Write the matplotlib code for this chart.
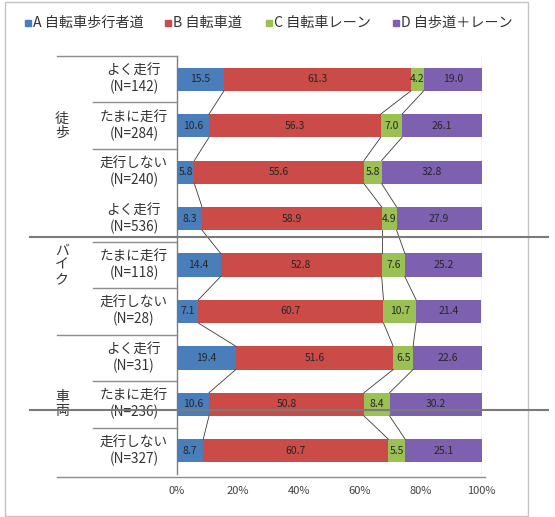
import matplotlib
matplotlib.use("Agg")
import matplotlib.pyplot as plt
from matplotlib.lines import Line2D
from matplotlib.patches import Rectangle
import matplotlib.transforms as mtransforms
import numpy as np

plt.rcParams['font.family'] = ['Noto Sans CJK JP', 'DejaVu Sans']

# --- data -------------------------------------------------------------
series_names = ["A 自転車歩行者道", "B 自転車道", "C 自転車レーン", "D 自歩道＋レーン"]
row_labels = ["よく走行", "たまに走行", "走行しない",
              "よく走行", "たまに走行", "走行しない",
              "よく走行", "たまに走行", "走行しない"]
row_n = ["(N=142)", "(N=284)", "(N=240)",
         "(N=536)", "(N=118)", "(N=28)",
         "(N=31)", "(N=236)", "(N=327)"]
group_labels = ["徒歩", "バイク", "車両"]
group_rows = [1, 4, 7]

share_a = [15.5, 10.6, 5.8, 8.3, 14.4, 7.1, 19.4, 10.6, 8.7]
share_b = [61.3, 56.3, 55.6, 58.9, 52.8, 60.7, 51.6, 50.8, 60.7]
share_c = [4.2, 7.0, 5.8, 4.9, 7.6, 10.7, 6.5, 8.4, 5.5]
share_d = [19.0, 26.1, 32.8, 27.9, 25.2, 21.4, 22.6, 30.2, 25.1]

x_ticks = [0, 20, 40, 60, 80, 100]
x_tick_labels = ["0%", "20%", "40%", "60%", "80%", "100%"]

colors = ["#4A7EBB", "#CB4B48", "#9BC054", "#7E60B0"]

# --- figure -----------------------------------------------------------
W, H = 555, 517
fig = plt.figure(figsize=(W / 100, H / 100), dpi=100)
fig.patch.set_facecolor("white")


def fx(x):
    return x / W


def fy(y):
    return 1 - y / H


ax = fig.add_axes([fx(176.7), fy(474), fx(305), 418 / H])

values = np.array([share_a, share_b, share_c, share_d])
n_rows = values.shape[1]
ypos = np.arange(n_rows)
bar_h = 0.5
left = np.zeros(n_rows)
for k in range(4):
    ax.barh(ypos, values[k], left=left, height=bar_h, color=colors[k],
            edgecolor="none", zorder=3)
    for i in range(n_rows):
        ax.text(left[i] + values[k][i] / 2, ypos[i], f"{values[k][i]:.1f}",
                ha="center", va="center", fontsize=7.5, color="#262626",
                zorder=5)
    left = left + values[k]

# series lines joining segment boundaries of neighbouring bars
cum = np.cumsum(values, axis=0)
for i in range(n_rows - 1):
    for k in range(3):
        ax.plot([cum[k][i], cum[k][i + 1]],
                [ypos[i] + bar_h / 2, ypos[i + 1] - bar_h / 2],
                color="#3a3a3a", lw=0.6, zorder=4)

ax.axvline(100, color="#a6a6a6", lw=0.9, zorder=1)
ax.set_xlim(0, 100)
ax.set_ylim(n_rows - 0.5, -0.5)
ax.set_xticks(x_ticks)
ax.set_xticklabels(x_tick_labels, fontsize=8, color="#404040")
ax.set_yticks([])
ax.tick_params(axis="x", length=0, pad=9)
for s in ["top", "right", "bottom"]:
    ax.spines[s].set_visible(False)
ax.spines["left"].set_color("#7f7f7f")
ax.spines["left"].set_linewidth(1.0)

# row labels and left-hand table
mix = mtransforms.blended_transform_factory(fig.transFigure, ax.transData)
for i in range(n_rows):
    ax.text(fx(134), ypos[i], row_labels[i] + "\n" + row_n[i],
            transform=mix, ha="center", va="center", fontsize=9.8,
            color="#333333", linespacing=1.15, multialignment="center")

for g, r in zip(group_labels, group_rows):
    ax.text(fx(62), ypos[r], "\n".join(g), transform=mix, ha="center",
            va="center", fontsize=10, color="#333333", linespacing=1.0)

line_kw = dict(color="#8c8c8c", lw=1.0, transform=mix, clip_on=False)
for i in range(n_rows - 1):
    if i == 2:
        continue
    x0 = fx(57) if i == 5 else fx(93)
    fig.add_artist(Line2D([x0, fx(176.7)], [i + 0.5, i + 0.5], **line_kw))
fig.add_artist(Line2D([fx(57), fx(176.7)], [-0.5, -0.5], **line_kw))
fig.add_artist(Line2D([fx(57), fx(485)], [n_rows - 0.5 + 0.07] * 2, **line_kw))

# long horizontal rules across the figure
for yy in [237, 410]:
    fig.add_artist(Line2D([fx(30), fx(548)], [fy(yy), fy(yy)],
                          color="#7a7a7a", lw=1.5))

# outer frame
fig.add_artist(Rectangle((fx(5), fy(516)), fx(523), (514) / H,
                         transform=fig.transFigure, fill=False,
                         edgecolor="#c4c4c4", lw=1.0))

# legend
leg_x = [28, 168, 269, 396]
for c, name, xx in zip(colors, series_names, leg_x):
    fig.add_artist(Rectangle((fx(xx - 3), fy(26)), fx(6), 6 / H,
                             transform=fig.transFigure, color=c))
    fig.text(fx(xx + 5), fy(23), name, ha="left", va="center", fontsize=10.2,
             color="#333333")

fig.savefig("out.png", dpi=100)
